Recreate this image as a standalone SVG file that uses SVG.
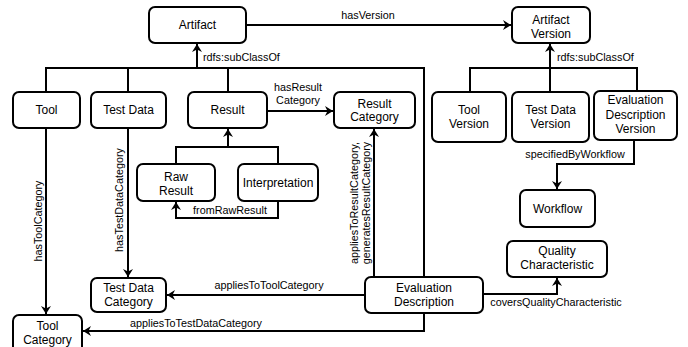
<svg xmlns="http://www.w3.org/2000/svg" width="688" height="347" viewBox="0 0 688 347">
<defs>
<marker id="ah" viewBox="-9 -6 10 12" markerWidth="10" markerHeight="12" refX="0" refY="0" orient="auto" markerUnits="userSpaceOnUse">
<path d="M-8,-5 L0,0 L-8,5 L-5.5,0 z" fill="#000"/>
</marker>
</defs>
<style>
.box{fill:#fff;stroke:#000;stroke-width:2}
.t{font-family:"Liberation Sans",Arial,sans-serif;font-size:12px;fill:#000;text-anchor:middle}
.l{font-family:"Liberation Sans",Arial,sans-serif;font-size:10.8px;fill:#000}
.m{text-anchor:middle}
.c{fill:none;stroke:#000;stroke-width:2}
.a{marker-end:url(#ah)}
</style>
<rect width="688" height="347" fill="#fff"/>
<g id="connectors">
<path class="c a" d="M246,25 H511"/>
<path class="c" d="M46,92 V68 H424 V277 M128,92 V68 M228,92 V68"/>
<path class="c a" d="M197,68 V44"/>
<path class="c" d="M470,92 V68 H637 V91"/>
<path class="c a" d="M550,92 V44"/>
<path class="c a" d="M267,111 H333"/>
<path class="c" d="M176,164 V147 H278 V164"/>
<path class="c a" d="M228,147 V129"/>
<path class="c a" d="M278,201 V218 H176 V202"/>
<path class="c a" d="M46,128 V314"/>
<path class="c a" d="M128,128 V277"/>
<path class="c a" d="M374,277 V129"/>
<path class="c a" d="M365,295 H167"/>
<path class="c a" d="M424,313 V331 H83"/>
<path class="c a" d="M483,294 H557 V278"/>
<path class="c a" d="M634,140 V164 H557 V189"/>
<text class="l m" x="368" y="19">hasVersion</text>
<text class="l" x="203" y="61">rdfs:subClassOf</text>
<text class="l" x="557" y="61">rdfs:subClassOf</text>
<text class="l m" x="298" y="91">hasResult</text>
<text class="l m" x="298" y="104">Category</text>
<text class="l m" x="230" y="214">fromRawResult</text>
<text class="l m" x="575" y="158">specifiedByWorkflow</text>
<text class="l m" x="269" y="289">appliesToToolCategory</text>
<text class="l m" x="196" y="327">appliesToTestDataCategory</text>
<text class="l m" x="556" y="306">coversQualityCharacteristic</text>
<text class="l m" transform="translate(42,221) rotate(-90)">hasToolCategory</text>
<text class="l m" transform="translate(123,200) rotate(-90)">hasTestDataCategory</text>
<text class="l m" transform="translate(358,203) rotate(-90)">appliesToResultCategory,</text>
<text class="l m" transform="translate(370,203) rotate(-90)">generatesResultCategory</text>
</g>
<g id="artifact"><rect class="box" x="149" y="7" width="97" height="36" rx="6"/><text class="t" x="197.5" y="29">Artifact</text></g>
<g id="artifact-version"><rect class="box" x="512" y="7" width="78" height="36" rx="6"/><text class="t" x="551" y="24">Artifact</text><text class="t" x="551" y="38">Version</text></g>
<g id="tool"><rect class="box" x="13" y="92" width="67" height="36" rx="6"/><text class="t" x="46.5" y="114">Tool</text></g>
<g id="test-data"><rect class="box" x="91" y="92" width="75" height="36" rx="6"/><text class="t" x="128.5" y="114">Test Data</text></g>
<g id="result"><rect class="box" x="188" y="92" width="79" height="36" rx="6"/><text class="t" x="227.5" y="114">Result</text></g>
<g id="result-category"><rect class="box" x="334" y="92" width="81" height="36" rx="6"/><text class="t" x="374.5" y="108">Result</text><text class="t" x="374.5" y="121">Category</text></g>
<g id="tool-version"><rect class="box" x="432" y="92" width="74" height="50" rx="6"/><text class="t" x="469" y="114">Tool</text><text class="t" x="469" y="128">Version</text></g>
<g id="test-data-version"><rect class="box" x="512" y="92" width="77" height="50" rx="6"/><text class="t" x="550.5" y="114">Test Data</text><text class="t" x="550.5" y="128">Version</text></g>
<g id="evaluation-description-version"><rect class="box" x="594" y="91" width="83" height="49" rx="6"/><text class="t" x="635.5" y="104">Evaluation</text><text class="t" x="635.5" y="118.5">Description</text><text class="t" x="635.5" y="133">Version</text></g>
<g id="raw-result"><rect class="box" x="137" y="164" width="78" height="37" rx="6"/><text class="t" x="176" y="181">Raw</text><text class="t" x="176" y="195">Result</text></g>
<g id="interpretation"><rect class="box" x="238" y="164" width="80" height="37" rx="6"/><text class="t" x="278" y="187">Interpretation</text></g>
<g id="workflow"><rect class="box" x="520" y="190" width="75" height="37" rx="6"/><text class="t" x="557.5" y="213">Workflow</text></g>
<g id="quality-characteristic"><rect class="box" x="507" y="241" width="100" height="36" rx="6"/><text class="t" x="557" y="255">Quality</text><text class="t" x="557" y="269">Characteristic</text></g>
<g id="evaluation-description"><rect class="box" x="365" y="277" width="118" height="36" rx="6"/><text class="t" x="424" y="292">Evaluation</text><text class="t" x="424" y="306">Description</text></g>
<g id="test-data-category"><rect class="box" x="91" y="278" width="75" height="34" rx="6"/><text class="t" x="128.5" y="292">Test Data</text><text class="t" x="128.5" y="306">Category</text></g>
<g id="tool-category"><rect class="box" x="13" y="315" width="69" height="40" rx="6"/><text class="t" x="47.5" y="330">Tool</text><text class="t" x="47.5" y="344">Category</text></g>
</svg>
